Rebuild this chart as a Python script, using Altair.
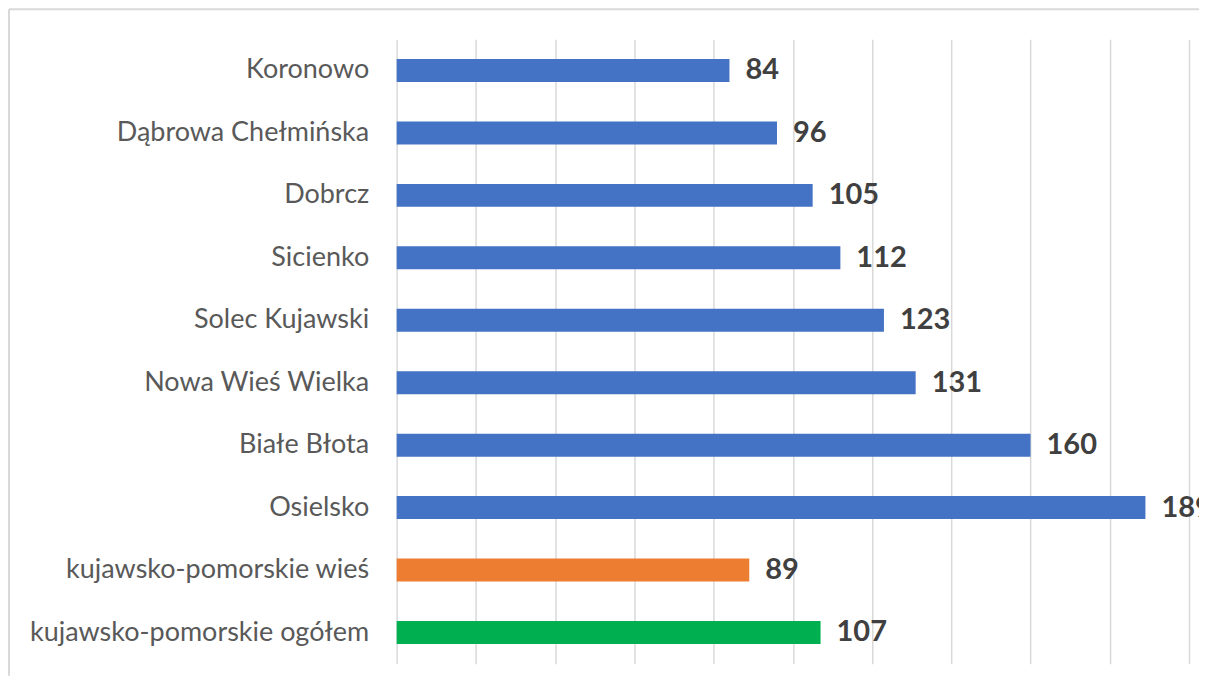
import altair as alt
import pandas as pd

categories = ["Koronowo", "Dąbrowa Chełmińska", "Dobrcz", "Sicienko", "Solec Kujawski",
              "Nowa Wieś Wielka", "Białe Błota", "Osielsko",
              "kujawsko-pomorskie wieś", "kujawsko-pomorskie ogółem"]
values = [84, 96, 105, 112, 123, 131, 160, 189, 89, 107]
groups = ["gmina"] * 8 + ["wieś", "ogółem"]
group_names = ["gmina", "wieś", "ogółem"]
group_colors = ["#4472C4", "#ED7D31", "#00B050"]
grid_values = [0, 20, 40, 60, 80, 100, 120, 140, 160, 180, 200]

df = pd.DataFrame({"kat": categories, "val": values, "grp": groups})

PLOT_W = 803
PLOT_H = 625

x_enc = alt.X("val:Q",
              scale=alt.Scale(domain=[0, 200 * PLOT_W / 793], nice=False),
              axis=alt.Axis(values=grid_values, labels=False, ticks=False, domain=False,
                            title=None, grid=True, gridColor="#d9d9d9", gridWidth=1.5))
y_enc = alt.Y("kat:N", sort=None,
              scale=alt.Scale(paddingInner=0.632, paddingOuter=0.316),
              axis=alt.Axis(title=None, domain=False, ticks=False, grid=False,
                            labelFont="Lato", labelFontSize=27, labelColor="#595959",
                            labelPadding=28, labelLimit=500))

base = alt.Chart(df)
bars = base.mark_bar().encode(
    x=x_enc, y=y_enc,
    color=alt.Color("grp:N", scale=alt.Scale(domain=group_names, range=group_colors), legend=None),
)
labels = base.mark_text(align="left", baseline="middle", dx=16, fontSize=29,
                        fontWeight="bold", color="#404040", font="Lato", clip=True).encode(
    x="val:Q", y=alt.Y("kat:N", sort=None), text="val:Q"
)

frame_df = pd.DataFrame({"a": [0]})
frame_left = alt.Chart(frame_df).mark_rule(color="#d9d9d9", strokeWidth=2).encode(
    x=alt.value(-388), y=alt.value(-30), y2=alt.value(637))
frame_top = alt.Chart(frame_df).mark_rule(color="#d9d9d9", strokeWidth=2).encode(
    x=alt.value(-388), x2=alt.value(PLOT_W), y=alt.value(-30))

chart = alt.layer(frame_left, frame_top, bars, labels).properties(
    width=PLOT_W, height=PLOT_H, padding=0, background="white"
).configure_view(stroke=None)

chart.save("out.html", embed_options={"renderer": "svg", "actions": False})
